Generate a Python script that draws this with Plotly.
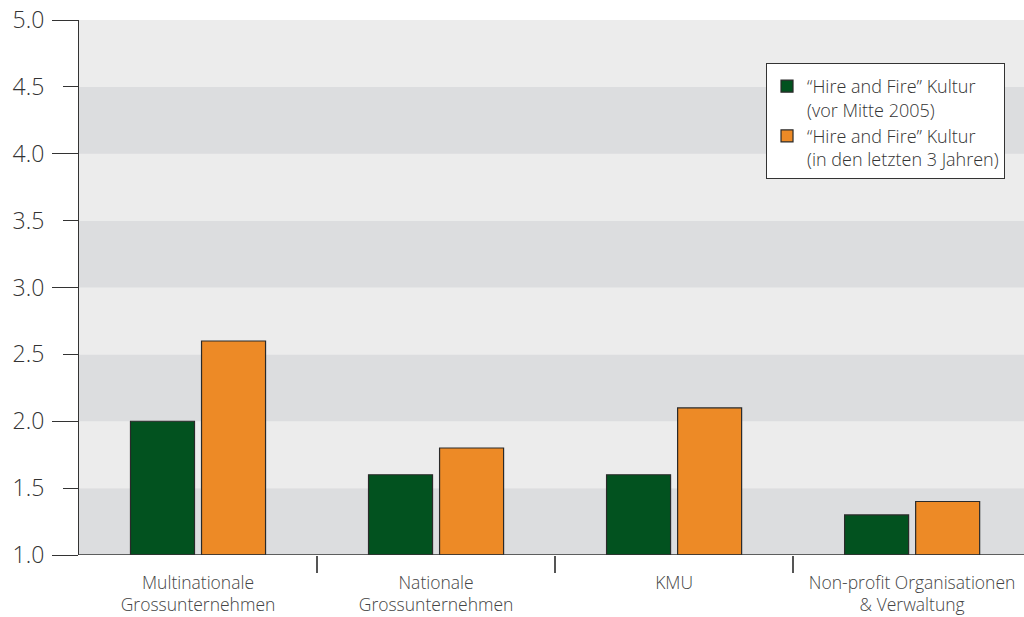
import plotly.graph_objects as go

categories = [
    "Multinationale<br>Grossunternehmen",
    "Nationale<br>Grossunternehmen",
    "KMU",
    "Non-profit Organisationen<br>& Verwaltung",
]
series_names = [
    "“Hire and Fire” Kultur<br>(vor Mitte 2005)",
    "“Hire and Fire” Kultur<br>(in den letzten 3 Jahren)",
]
before_2005 = [2.0, 1.6, 1.6, 1.3]
last_3_years = [2.6, 1.8, 2.1, 1.4]
y_ticks = [1.0, 1.5, 2.0, 2.5, 3.0, 3.5, 4.0, 4.5, 5.0]
y_tick_text = [f"{v:.1f}" for v in y_ticks]

GREEN = "#02521f"
ORANGE = "#ed8a26"
OUTLINE = "#2a2a2a"
BAND_LIGHT = "#ececec"
BAND_DARK = "#dcdddf"
AXIS = "#333333"
FONT = "Open Sans"

x_pos = list(range(len(categories)))

fig = go.Figure()
fig.add_trace(go.Bar(
    x=x_pos, y=[v - 1.0 for v in before_2005], base=1.0,
    name=series_names[0], marker=dict(color=GREEN, line=dict(color=OUTLINE, width=1.2)),
    hoverinfo="skip",
))
fig.add_trace(go.Bar(
    x=x_pos, y=[v - 1.0 for v in last_3_years], base=1.0,
    name=series_names[1], marker=dict(color=ORANGE, line=dict(color=OUTLINE, width=1.2)),
    hoverinfo="skip",
))

# alternating horizontal bands behind the bars
shapes = []
for i in range(8):
    lo = 1.0 + 0.5 * i
    shapes.append(dict(
        type="rect", xref="paper", yref="y", x0=0, x1=1, y0=lo, y1=lo + 0.5,
        fillcolor=BAND_DARK if i % 2 == 0 else BAND_LIGHT, line=dict(width=0), layer="below",
    ))

fig.update_layout(
    width=1024, height=617,
    margin=dict(l=79, r=0, t=20, b=62),
    paper_bgcolor="white", plot_bgcolor=BAND_LIGHT,
    barmode="group", bargap=0.403, bargroupgap=0.099,
    shapes=shapes,
    showlegend=True,
    legend=dict(
        x=0.727, y=0.9196, xanchor="left", yanchor="top",
        bgcolor="white", bordercolor=AXIS, borderwidth=1,
        font=dict(family=FONT, size=18, color="#333333", weight=300),
        title=dict(text=" ", font=dict(size=3)),
        valign="top", itemwidth=30, tracegroupgap=0,
    ),
    xaxis=dict(
        range=[-0.5, 3.47], tickvals=x_pos, ticktext=categories,
        ticks="", showgrid=False, zeroline=False, showline=False,
        tickfont=dict(family=FONT, size=17.5, color="#444444", weight=300),
        ticklabelstandoff=15, automargin=False,
    ),
    xaxis2=dict(
        overlaying="x", anchor="y", range=[-0.5, 3.47],
        tickvals=[0.5, 1.5, 2.5], ticks="outside", ticklen=17, tickwidth=1.5,
        tickcolor="#555555", showticklabels=False, showgrid=False, zeroline=False, showline=False,
        automargin=False,
    ),
    yaxis=dict(
        range=[1.0, 5.0], tickvals=y_ticks, ticktext=y_tick_text,
        ticks="outside", ticklen=15, tickwidth=1.2, tickcolor=AXIS,
        showline=True, linecolor=AXIS, linewidth=1.2,
        showgrid=False, zeroline=False,
        tickfont=dict(family=FONT, size=23, color="#333333", weight=300),
        ticklabelstandoff=14, automargin=False,
    ),
    yaxis2=dict(
        overlaying="y", anchor="x", side="left", range=[1.0, 5.0],
        tickvals=[1.0, 2.0, 3.0, 4.0, 5.0], ticks="outside", ticklen=26, tickwidth=1.2,
        tickcolor=AXIS, showticklabels=False, showgrid=False, zeroline=False, showline=False,
        automargin=False,
    ),
)

# x axis baseline
fig.add_shape(type="line", xref="paper", yref="y", x0=0, x1=1, y0=1.0, y1=1.0,
              line=dict(color=AXIS, width=1.5), layer="above")

# empty trace so the overlay axes get drawn
fig.add_trace(go.Scatter(x=[], y=[], xaxis="x2", yaxis="y2", showlegend=False))

fig.write_html("out.html")
